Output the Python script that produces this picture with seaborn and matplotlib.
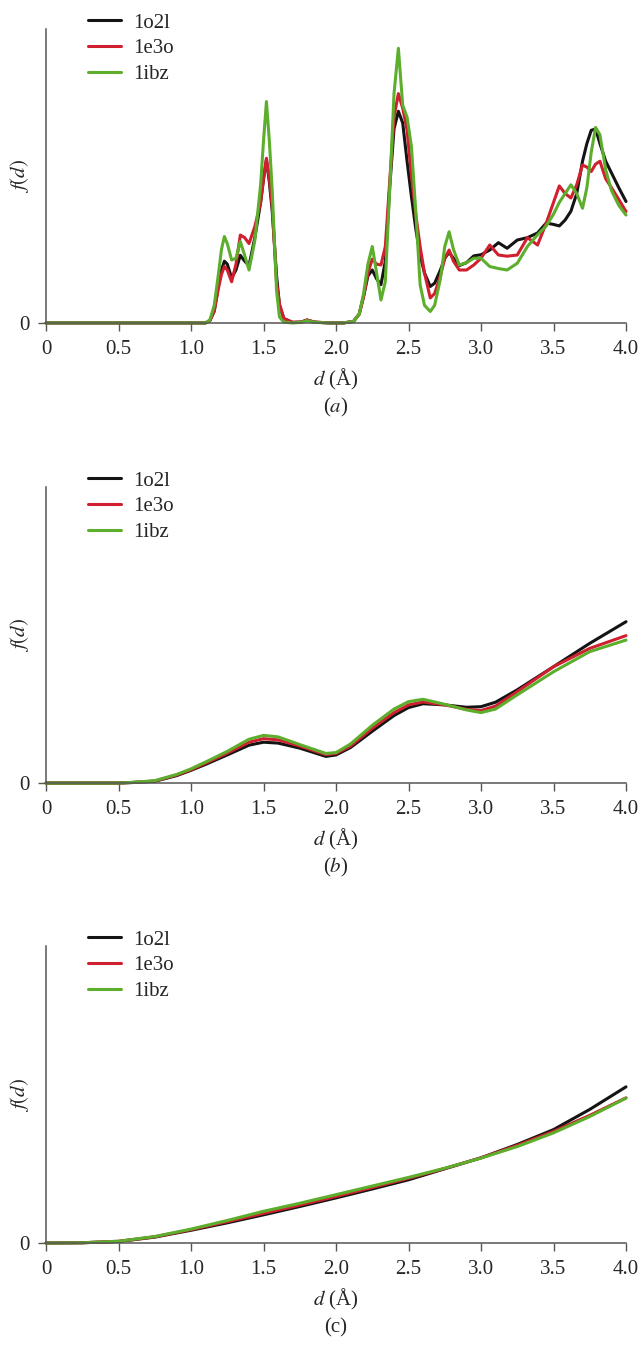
import numpy as np
import pandas as pd
import matplotlib
matplotlib.use("Agg")
import matplotlib.pyplot as plt
import seaborn as sns

# nama seri (kode PDB)
proteins = ["1o2l", "1e3o", "1ibz"]
colors = ["#141414", "#d01f2e", "#5cae2c"]

# ---- panel (a) ----
d_a = [0, 1.0, 1.10, 1.13, 1.16, 1.19, 1.21, 1.23, 1.25, 1.28, 1.31, 1.34, 1.37, 1.40,
       1.44, 1.48, 1.50, 1.52, 1.54, 1.56, 1.59, 1.61, 1.64, 1.70, 1.76, 1.80, 1.85,
       1.95, 2.05, 2.12, 2.16, 2.19, 2.22, 2.25, 2.28, 2.31, 2.34, 2.37, 2.40, 2.43,
       2.46, 2.49, 2.52, 2.55, 2.58, 2.61, 2.65, 2.68, 2.72, 2.75, 2.78, 2.81, 2.85,
       2.90, 2.95, 3.00, 3.06, 3.12, 3.18, 3.25, 3.32, 3.39, 3.45, 3.50, 3.54, 3.58,
       3.62, 3.66, 3.70, 3.73, 3.76, 3.79, 3.82, 3.86, 3.90, 3.95, 4.00]
a_1o2l = [0, 0, 0, 0.8, 4, 13, 18, 21, 20, 15.3, 18, 23, 21, 19.5,
          29, 41, 49, 55.5, 48, 38, 16, 6, 1.5, 0.2, 0.3, 1.0, 0.3,
          0, 0, 0.5, 3, 9, 16, 18, 15, 13, 21, 46, 66, 72,
          68, 55, 43, 32, 23, 17, 12.4, 13.5, 18, 22, 24, 22, 19.5,
          20.5, 22.8, 23.2, 24.8, 27.3, 25.4, 28.2, 29, 30.6, 34, 33.5, 33, 35,
          38, 44, 55, 61, 65.5, 66, 61, 55, 51, 46, 41.3]
a_1e3o = [0, 0, 0, 0.8, 4, 12, 16.5, 19.2, 18, 14, 20, 29.9, 29, 27,
          32.8, 41, 49, 56, 49, 39.6, 13.6, 6.5, 1.5, 0.2, 0.3, 1.0, 0.3,
          0, 0, 0.5, 3, 9, 17, 21.7, 20, 19.7, 26, 48, 70, 78,
          73, 65.6, 50, 37, 26, 17, 8.5, 10, 16, 22, 24.8, 21, 18,
          18, 19.7, 22, 26.5, 23.1, 22.7, 23.1, 29, 26.5, 34, 41, 46.6, 44,
          42.5, 47, 53.7, 53, 51.5, 54, 55, 49, 46, 42, 37.9]
a_1ibz = [0, 0, 0, 1, 6, 17, 25, 29.4, 27, 21.4, 22, 27.7, 23, 18,
          28, 47, 62, 75.3, 62, 45, 11, 2, 0.3, 0, 0.2, 0.8, 0.2,
          0, 0, 0.5, 3, 10, 20, 26, 17, 7.8, 14, 45, 78, 93.4,
          74, 70, 60, 38, 13, 6, 3.9, 6, 15, 26, 31, 25, 19.7,
          20.5, 22, 22, 19.2, 18.5, 18, 20.3, 26, 30, 33, 37, 41, 44,
          47, 44, 39, 46, 58, 66.5, 64, 52, 45, 40, 36.7]

# ---- panel (b) ----
d_b = [0, 0.25, 0.5, 0.6, 0.75, 0.9, 1.0, 1.1, 1.25, 1.4, 1.5, 1.6, 1.75, 1.93, 2.0,
       2.1, 2.25, 2.4, 2.5, 2.6, 2.75, 2.9, 3.0, 3.1, 3.25, 3.5, 3.75, 4.0]
b_1o2l = [0, 0, 0, 0.2, 0.6, 2.5, 4.3, 6.3, 9.5, 12.8, 13.8, 13.5, 11.8, 9, 9.5,
          12, 17.5, 22.8, 25.5, 26.8, 26.4, 25.6, 25.8, 27.3, 31.5, 39.3, 47.2, 54.5]
b_1e3o = [0, 0, 0, 0.2, 0.7, 2.7, 4.5, 6.7, 10.1, 13.8, 15, 14.6, 12.5, 9.6, 10,
          12.5, 18.5, 23.8, 26.4, 27.4, 26.4, 24.9, 24.5, 26, 30.9, 39.3, 45.5, 49.8]
b_1ibz = [0, 0, 0, 0.25, 0.8, 2.9, 4.8, 7.1, 10.7, 14.8, 16.1, 15.6, 13, 10, 10.3,
          13.2, 19.5, 25, 27.5, 28.3, 26.6, 24.7, 23.8, 25, 29.8, 37.6, 44.4, 48.3]

# ---- panel (c) ----
d_c = [0, 0.25, 0.5, 0.75, 1.0, 1.25, 1.5, 1.75, 2.0, 2.25, 2.5, 2.75, 3.0, 3.25,
       3.5, 3.75, 4.0]
c_1o2l = [0, 0.1, 0.5, 2.0, 4.3, 6.8, 9.5, 12.3, 15.2, 18.2, 21.3, 25.0, 28.7, 33.2,
          38.2, 45.0, 52.6]
c_1e3o = [0, 0.1, 0.6, 2.1, 4.5, 7.2, 10.0, 12.8, 15.7, 18.7, 21.8, 25.1, 28.7, 32.9,
          37.6, 43.0, 48.9]
c_1ibz = [0, 0.1, 0.6, 2.2, 4.7, 7.6, 10.7, 13.4, 16.3, 19.2, 22.1, 25.2, 28.6, 32.5,
          37.1, 42.6, 48.8]

xticks = [0, 0.5, 1.0, 1.5, 2.0, 2.5, 3.0, 3.5, 4.0]
xticklabels = ["0", "0.5", "1.0", "1.5", "2.0", "2.5", "3.0", "3.5", "4.0"]


def long_form(d, series):
    rows = []
    for name, vals in zip(proteins, series):
        rows.append(pd.DataFrame({"d": d, "f": vals, "protein": name}))
    return pd.concat(rows, ignore_index=True)


sns.set_style("ticks")
plt.rcParams["font.family"] = ["Liberation Serif", "DejaVu Serif"]
plt.rcParams["mathtext.fontset"] = "stix"

fig = plt.figure(figsize=(6.42, 13.45), dpi=100)

panels = [
    (d_a, [a_1o2l, a_1e3o, a_1ibz], [0.0717, 0.7599, 0.9034, 0.2186], "($a$)"),
    (d_b, [b_1o2l, b_1e3o, b_1ibz], [0.0717, 0.4178, 0.9034, 0.2201], "($b$)"),
    (d_c, [c_1o2l, c_1e3o, c_1ibz], [0.0717, 0.0758, 0.9034, 0.2208], "(c)"),
]

for d, series, rect, tag in panels:
    ax = fig.add_axes(rect)
    df = long_form(d, series)
    sns.lineplot(data=df, x="d", y="f", hue="protein", hue_order=proteins,
                 palette=colors, estimator=None, sort=False, linewidth=2.2,
                 ax=ax, legend=True)
    for line in ax.lines:
        line.set_clip_on(False)

    ax.set_xlim(0, 4.0)
    ax.set_ylim(0, 100)
    ax.set_xticks(xticks)
    ax.set_xticklabels(xticklabels)
    ax.set_yticks([0])
    ax.set_yticklabels(["0"])
    ax.tick_params(axis="both", direction="out", length=6, width=1.0,
                   color="#555555", labelsize=15, pad=6)
    ax.set_xlabel("$d$ (Å)", fontsize=15, labelpad=6)
    ax.set_ylabel("$f(d)$", fontsize=15)
    ax.yaxis.set_label_coords(-0.026, 0.5)
    sns.despine(ax=ax)
    for side in ["left", "bottom"]:
        ax.spines[side].set_color("#555555")
        ax.spines[side].set_linewidth(1.1)

    ax.annotate(tag, xy=(0.5, 0), xycoords="axes fraction", xytext=(0, -61),
                textcoords="offset points", ha="center", va="center", fontsize=15)

    handles, labels = ax.get_legend_handles_labels()
    ax.legend(handles, labels, loc="upper left", bbox_to_anchor=(0.072, 1.054),
              frameon=False, fontsize=15, handlelength=1.6, handletextpad=0.6,
              labelspacing=0.3, borderpad=0, borderaxespad=0)

plt.savefig("out.png", dpi=100)
